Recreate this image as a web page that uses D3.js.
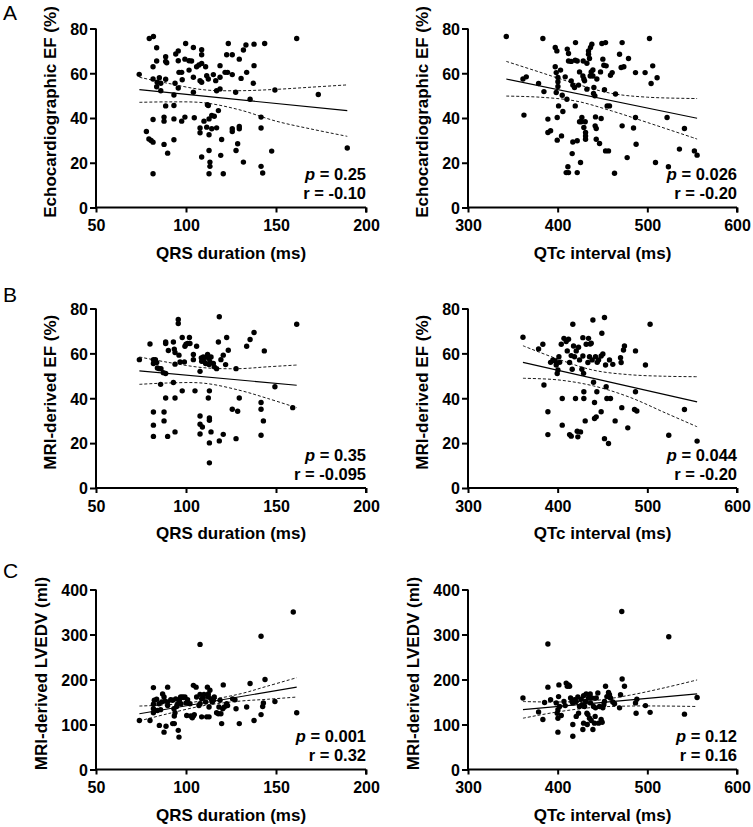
<!DOCTYPE html>
<html>
<head>
<meta charset="utf-8">
<script src="https://cdn.jsdelivr.net/npm/d3@7/dist/d3.min.js"></script>
<style>
  html, body { margin: 0; padding: 0; background: #fff; }
  svg { display: block; }
  text { font-family: "Liberation Sans", Arial, Helvetica, sans-serif; }
</style>
</head>
<body>
<svg id="chart" width="753" height="827"></svg>
<script>
// ---------------- DATA ----------------
const qrsTicks = [50, 100, 150, 200];
const qtcTicks = [300, 400, 500, 600];
const efTicks = [0, 20, 40, 60, 80];
const edvTicks = [0, 100, 200, 300, 400];

const panelLetters = ["A", "B", "C"];
const xTitles = ["QRS duration (ms)", "QTc interval (ms)"];
const yTitles = ["Echocardiographic EF (%)", "MRI-derived EF (%)", "MRI-derived LVEDV (ml)"];
const pValues = ["0.25", "0.026", "0.35", "0.044", "0.001", "0.12"];
const rValues = ["-0.10", "-0.20", "-0.095", "-0.20", "0.32", "0.16"];

// Panel A left: echocardiographic EF vs QRS duration
const echoEfVsQrs = [[74,59.5],[78,34],[79.6,75.5],[81.9,76.4],[79.4,30.6],[80.6,30],[81.7,29.2],[81.7,15.1],[81.7,39.3],[81.7,57.4],[81.7,62.9],[83.7,71.4],[83.7,65.5],[83.7,54],[84,56],[85.2,58],[86,55.5],[86,52.2],[87.8,28.2],[87.8,40.4],[87.8,38.6],[88.7,65.3],[88.7,67.4],[89.3,64.7],[88.7,57.3],[88.7,45.4],[89.8,24.3],[93.3,30.3],[93.3,39.6],[93.3,45.6],[93.3,50.3],[93.9,55.5],[94.3,68.6],[95.7,70],[95.7,65.6],[95.7,53.4],[96.1,60.4],[97.6,60.4],[97.9,57.1],[97.6,38.6],[99.4,40.4],[99.8,73.3],[99.4,66.3],[101.7,65.6],[101.7,61.4],[103.1,65.5],[104.1,71.5],[104.1,58.2],[104.1,51.5],[104.6,40.1],[105.9,62.9],[107.2,63.7],[107.8,35.5],[107.8,33.4],[108.7,70.5],[108.7,68.3],[108.7,56],[108.7,64.4],[108.7,22.6],[107.8,56.7],[110,38.6],[110.9,62.9],[111.5,58.9],[111.5,35.9],[111.9,45.9],[112.4,57.4],[112.8,39.6],[112.4,45.6],[112.8,32.5],[112.8,25.5],[113.3,20.3],[113.3,18.4],[112.8,15.1],[114.3,41.1],[114.3,35.2],[115.2,59.4],[115.7,40.8],[116.5,56.7],[117,35.6],[117,52.2],[118,43.3],[118.9,58.2],[118.9,63.4],[118.9,53],[119.3,23.3],[119.8,30.4],[120.7,15.1],[121.7,60.4],[123.1,60.4],[123.5,73.3],[122.6,68.3],[125.7,68.3],[125.7,59.4],[125.7,35.2],[125.7,34],[127.6,51.5],[127.8,25.5],[128.7,28.5],[129.6,35.2],[129.6,36.2],[129.6,66.3],[130.6,57.7],[131.9,20.3],[131.9,70.4],[133.3,72.6],[133.7,60.4],[135.6,48.4],[137.4,55.5],[137.8,63.4],[137.8,73],[141.7,40.4],[141.7,35.5],[141.7,18.4],[142.6,15.4],[143.7,73.3],[147.6,25.2],[149.4,52.5],[161.5,75.5],[173.5,50.5],[189.6,26.6]];
const echoEfVsQrsFit = [[74.1,52.7],[189.6,43.3]];
const echoEfVsQrsUpper = [[74.1,58.2],[90,55.5],[110,52.6],[130,52.2],[150,52.8],[170,53.8],[189.6,54.8]];
const echoEfVsQrsLower = [[74.1,47],[90,47.2],[110,46.8],[130,43.6],[150,38.6],[170,35],[189.6,31.8]];

// Panel A right: echocardiographic EF vs QTc interval
const echoEfVsQtc = [[342.7,76.4],[361.3,57.4],[365,58.4],[362.4,41.3],[378.7,55.4],[383.5,75.5],[384.7,51.8],[389.1,39.5],[389.1,33.5],[392.1,34.3],[397.3,62.9],[397.3,71.5],[399.1,70],[398.4,60.3],[400.3,58.1],[400.3,56.2],[400.3,54.1],[398.4,51.4],[399.5,40.2],[399.5,30.1],[401,45.4],[403.2,61.4],[404.3,32],[405.8,42.9],[405.1,50.2],[408.4,58.4],[410.3,48.4],[409.5,15.6],[412.1,15.6],[411.4,18.2],[410.7,70.8],[412.1,68.8],[412.1,65.5],[415.1,65.3],[415.1,56.6],[416.9,54.7],[416.2,24.1],[416.9,29.3],[418.8,53.6],[419.6,65.8],[419.6,45.4],[419.9,73.7],[421.8,65.5],[421.8,29.8],[421.8,15.6],[423.3,54.7],[424.4,60.6],[425.5,20.1],[424.4,38.3],[426.3,38.3],[427,40.2],[428.1,58.8],[428.5,65.5],[429.2,35.8],[429.2,57.4],[430,56.6],[430.7,38.3],[431.1,33.5],[431.1,30.5],[431.1,32],[432.6,64.5],[432.6,52.9],[434.4,70],[434.4,68.5],[435.5,66.6],[436.3,58.8],[436.6,71.5],[437.4,60.6],[438.1,73],[439.3,61.5],[439.3,58.8],[440,51],[440.4,53.6],[441.5,49.9],[441.8,36.5],[442.2,40.5],[443,35.3],[443,30.5],[443.7,57.4],[446.7,28.6],[447.8,60.6],[448.5,39.8],[449.3,73.3],[450.4,66.3],[451.5,63.6],[452.2,52.6],[453.4,73.7],[453.4,25.3],[454.1,63.3],[455.2,45.4],[456.7,25.3],[457.8,45.4],[458.9,59.1],[460.8,60.3],[464.5,50.7],[463.4,15.3],[469,68.5],[470.8,62.6],[471.9,73.7],[471.9,36.5],[473.8,62.9],[477.5,22.3],[479,66.6],[484.6,35.5],[486.8,60.3],[486.8,40.2],[487.5,28.3],[497.5,60.3],[502.4,75.5],[504.2,55.4],[506,63.3],[509.1,20.1],[510.9,58],[522,40.2],[523.5,18.2],[535.8,26.1],[541.4,35.3],[552.5,25.3],[555.5,23.4]];
const echoEfVsQtcFit = [[342.7,57.4],[555.5,39.9]];
const echoEfVsQtcUpper = [[342.7,65.3],[380,60.5],[420,55.3],[460,51],[500,49.3],[555.5,48.7]];
const echoEfVsQtcLower = [[342.7,49.8],[380,49.3],[420,47.6],[460,43.2],[500,38],[555.5,30.6]];

// Panel B left: MRI-derived EF vs QRS duration
const mriEfVsQrs = [[74.1,57.2],[80,64.2],[81.9,57.2],[81.9,55.5],[81.9,33.9],[81.9,28],[81.9,23],[83,57.2],[83.7,55.9],[84.1,53.5],[85.2,53.2],[86.1,53.2],[85.9,46.2],[87.4,51.4],[87.8,33.9],[87.8,29.9],[88.7,64.4],[88.7,65.1],[88.7,51],[88.7,40.1],[89.8,23],[90.2,61.3],[93,65.1],[93,47],[93.5,61.9],[93.9,40.1],[93.9,25],[93.9,55.2],[93.9,60.4],[95.7,75.1],[95.7,73.3],[96.1,59.2],[96.7,56.2],[97.9,67.1],[97.9,43.3],[99.1,56.2],[99.4,63.2],[100,64.1],[100.9,64.4],[101.9,67.1],[102.2,64.4],[104.1,57.2],[104.1,59.5],[105,43.3],[105.9,63.2],[107.8,52],[107.8,32.1],[107.8,28.4],[107.8,24.1],[108.5,58],[108.7,56.5],[109.1,27.2],[109.6,58.4],[110,56.5],[110.9,55.5],[111.5,58.4],[112,59.5],[112.4,40.1],[112.8,55],[112.8,57.7],[113,43.3],[113,31.2],[113,30.2],[113,20.1],[113,11.2],[113.3,56.2],[113.9,25],[113.9,58.4],[115.2,55.5],[115.7,54],[117,53.2],[118,65.1],[118.5,76.3],[118.5,21],[119.4,57.2],[120.7,59.2],[120.7,23.9],[122,55],[122.6,67.1],[123.5,61.4],[125.7,35.1],[127.8,53.2],[127.8,22],[128.7,34.2],[129.6,40.1],[133.7,63.2],[135.6,66.2],[137.8,69.3],[141.7,38.1],[141.7,35.1],[141.7,23.5],[143,29.9],[143.5,61.1],[149.4,45.1],[159.3,35.8],[161.5,73]];
const mriEfVsQrsFit = [[74.1,52.2],[161.5,45.8]];
const mriEfVsQrsUpper = [[74.1,58.4],[90,56],[110,53.6],[130,53.2],[145,54],[161.5,54.8]];
const mriEfVsQrsLower = [[74.1,46.2],[90,46.8],[110,46.7],[130,43.5],[145,40],[161.5,35.8]];

// Panel B right: MRI-derived EF vs QTc interval
const mriEfVsQtc = [[361.3,67.2],[378.7,62],[383.5,64.1],[384.7,45.9],[389.1,34],[389.1,23.8],[392.1,56],[394.7,57.1],[397.3,56.6],[398.4,54.8],[399.5,51],[400.3,52.6],[401.4,58.5],[402.2,56],[405.1,39.9],[405.1,28],[404,64.1],[407,66.7],[409.5,65.3],[410.7,61.1],[412.1,66.3],[413.3,55.9],[413.3,23.8],[415.1,59],[415.1,23.1],[416.2,52.9],[416.9,73],[417.7,63.3],[418.8,58.5],[419.9,39.9],[420.7,61.1],[421.8,25.3],[422.5,22.8],[423.3,62.7],[424.4,57.1],[425.5,25],[427,52.9],[428.1,58.8],[428.1,67],[428.9,51.1],[429.2,42.9],[429.2,39.9],[430.7,29.9],[431.8,64.1],[433.7,55.9],[434.4,66.7],[435.5,58.5],[436.3,64.2],[437.4,64.5],[438.5,57.1],[439.3,74.9],[440,47.1],[441.1,38.1],[441.1,31],[442.2,58.5],[443,31.7],[443.7,42.9],[444.1,56],[445.6,57.1],[448.5,34],[448.5,58.8],[449.3,69],[450.4,59.7],[452.2,76],[452.2,22],[453.4,54.8],[454.1,45.1],[454.9,39.9],[456.7,19.8],[457.8,57.1],[458.9,39.9],[461.5,55.1],[464.1,29.9],[470.1,58.1],[470.8,55.9],[471.5,35.8],[473.4,61.5],[474.5,63.3],[478.2,26.8],[485.7,35],[486.8,61.1],[486.8,42.9],[488.3,34.3],[497.9,54.8],[503.1,73],[523.9,23.5],[541.4,35],[555.5,20.9]];
const mriEfVsQtcFit = [[361.3,56],[555.5,38.4]];
const mriEfVsQtcUpper = [[361.3,63.4],[400,57.5],[440,52.5],[480,50.5],[520,49.8],[555.5,49.6]];
const mriEfVsQtcLower = [[361.3,48.9],[400,48.2],[440,45.5],[480,40.5],[520,33.5],[555.5,27.3]];

// Panel C left: MRI-derived LVEDV vs QRS duration
const edvVsQrs = [[74.1,109],[80,109],[81.9,182],[81.9,145],[81.9,126],[81.9,135],[82.4,154],[83.7,156],[84.1,131],[85,146],[85.2,98],[85.9,133],[86.5,150],[87,168],[87.8,83],[87.8,161],[88.3,152],[88.9,96],[89.8,183],[89.8,150],[89.8,142],[91.5,155],[92.6,154],[92.6,102],[93.3,135],[93.5,102],[93.9,126],[93.5,119],[94.3,157],[94.8,140],[95.4,146],[95.7,87],[96.1,72],[96.3,154],[97,161],[97.2,146],[98.1,161],[98.5,160],[99.4,161],[100,148],[100.4,120],[100.9,155],[102.2,146],[102.6,119],[103.5,115],[104.1,119],[104.1,187],[104.6,122],[105.6,183],[105.9,161],[107.2,142],[107.8,146],[107.8,278],[107.8,167],[108.7,157],[108.7,117],[109.6,160],[110,167],[110.9,150],[111.5,117],[111.9,183],[112.4,168],[112.4,161],[112.8,139],[112.8,117],[113.3,176],[113.9,157],[114.6,150],[115.2,154],[115.7,161],[117,126],[118,124],[118.3,139],[118.9,154],[119.4,124],[119.8,102],[120.4,135],[120.7,188],[121.3,139],[122.6,146],[123.1,142],[125.9,157],[127.2,155],[127.8,135],[129.6,102],[133.7,139],[135.6,191],[137.8,109],[141.7,122],[141.7,296],[142.6,140],[143,148],[143.9,200],[149.4,151],[159.6,350],[161.5,126]];
const edvVsQrsFit = [[74.1,124],[161.5,183]];
const edvVsQrsUpper = [[74.1,141],[90,144],[110,153],[130,168],[145,185],[161.5,204]];
const edvVsQrsLower = [[74.1,108],[90,124],[110,142],[130,152],[145,156],[161.5,161]];

// Panel C right: MRI-derived LVEDV vs QTc interval
const edvVsQtc = [[361.3,159],[378.7,128],[383.5,111],[385.4,149],[389.1,279],[389.1,183],[392.1,155],[398.4,148],[399.5,125],[400.3,133],[400.3,114],[401,162],[401.4,188],[400.3,83],[402.2,140],[404,120],[407,151],[408.4,142],[409.5,192],[410.7,185],[412.1,188],[413.3,185],[414.4,159],[416,151],[416.9,100],[416.9,74],[416.9,148],[418.8,155],[420.7,151],[420.7,118],[422.5,161],[423.3,125],[424.4,140],[426.3,156],[427,144],[428.1,89],[428.9,164],[428.9,103],[430,140],[431.1,151],[431.8,168],[432.6,125],[433,100],[433.7,122],[434.4,159],[435.5,114],[436.3,168],[436.6,148],[437.4,109],[438.1,159],[439.3,89],[440,140],[441.1,103],[441.8,118],[442.2,137],[443,159],[444.8,170],[445.6,103],[446.7,140],[448.5,111],[449.6,105],[450.4,137],[451.5,144],[452.2,151],[453.4,185],[454.9,162],[456.7,171],[457.8,166],[458.9,159],[461.5,150],[463.4,146],[469,137],[470.1,166],[471.5,351],[471.9,201],[474.5,185],[486.8,148],[487.5,125],[488.3,156],[497.9,142],[503.1,127],[523.9,295],[541.4,123],[555.5,160]];
const edvVsQtcFit = [[361.3,133],[555.5,168]];
const edvVsQtcUpper = [[361.3,151],[400,150],[440,153],[480,165],[520,182],[555.5,199]];
const edvVsQtcLower = [[361.3,114],[400,128],[440,138],[480,141],[520,141],[555.5,140]];

// ---------------- LAYOUT ----------------
const svg = d3.select("#chart");
const colX = [[96, 366], [468, 737]];
const rowY = [[28.5, 207.5], [308.5, 488], [589.5, 769.5]];
const letterBaselines = [20, 302, 578];
const yTitleOffset = [46, 46, 55];

const panels = [
  { row: 0, col: 0, pts: echoEfVsQrs, fit: echoEfVsQrsFit, up: echoEfVsQrsUpper, lo: echoEfVsQrsLower, xt: qrsTicks, yt: efTicks },
  { row: 0, col: 1, pts: echoEfVsQtc, fit: echoEfVsQtcFit, up: echoEfVsQtcUpper, lo: echoEfVsQtcLower, xt: qtcTicks, yt: efTicks },
  { row: 1, col: 0, pts: mriEfVsQrs, fit: mriEfVsQrsFit, up: mriEfVsQrsUpper, lo: mriEfVsQrsLower, xt: qrsTicks, yt: efTicks },
  { row: 1, col: 1, pts: mriEfVsQtc, fit: mriEfVsQtcFit, up: mriEfVsQtcUpper, lo: mriEfVsQtcLower, xt: qtcTicks, yt: efTicks },
  { row: 2, col: 0, pts: edvVsQrs, fit: edvVsQrsFit, up: edvVsQrsUpper, lo: edvVsQrsLower, xt: qrsTicks, yt: edvTicks },
  { row: 2, col: 1, pts: edvVsQtc, fit: edvVsQtcFit, up: edvVsQtcUpper, lo: edvVsQtcLower, xt: qtcTicks, yt: edvTicks }
];

// panel letters
panelLetters.forEach((L, i) => {
  svg.append("text").attr("x", 3).attr("y", letterBaselines[i])
    .attr("font-size", 21).attr("font-weight", "normal").attr("fill", "#000").text(L);
});

panels.forEach((p, i) => {
  const [x0, x1] = colX[p.col];
  const [yTop, yBot] = rowY[p.row];
  const x = d3.scaleLinear().domain(d3.extent(p.xt)).range([x0, x1]);
  const y = d3.scaleLinear().domain(d3.extent(p.yt)).range([yBot, yTop]);
  const g = svg.append("g");

  // axes
  const xAxis = d3.axisBottom(x).tickValues(p.xt).tickSize(5).tickPadding(4).tickFormat(d3.format("d"));
  const yAxis = d3.axisLeft(y).tickValues(p.yt).tickSize(6).tickPadding(2).tickFormat(d3.format("d"));
  const gx = g.append("g").attr("transform", `translate(0,${yBot})`).call(xAxis);
  const gy = g.append("g").attr("transform", `translate(${x0},0)`).call(yAxis);
  [gx, gy].forEach(a => {
    a.select(".domain").attr("stroke", "#000").attr("stroke-width", 2);
    a.selectAll(".tick line").attr("stroke", "#000").attr("stroke-width", 2);
    a.selectAll(".tick text").attr("fill", "#000")
      .attr("font-family", '"Liberation Sans", Arial, sans-serif')
      .attr("font-size", 16).attr("font-weight", "bold");
  });
  gx.select(".domain").attr("d", `M${x0},0H${x1}M${x1},0V5`);
  gy.select(".domain").attr("d", `M0,${yTop}V${yBot}`);
  gx.selectAll(".tick text").attr("dy", "0.71em").attr("y", 12.5);
  gy.selectAll(".tick text").attr("x", -8).attr("dy", "0.36em");

  // axis titles
  g.append("text")
    .attr("x", (x0 + x1) / 2).attr("y", yBot + 51)
    .attr("text-anchor", "middle").attr("font-size", 17).attr("font-weight", "bold")
    .attr("fill", "#000").text(xTitles[p.col]);
  const ty = (yTop + yBot) / 2 - 6;
  const tx = x0 - yTitleOffset[p.row];
  g.append("text")
    .attr("transform", `translate(${tx},${ty}) rotate(-90)`)
    .attr("text-anchor", "middle").attr("dominant-baseline", "central")
    .attr("font-size", 17).attr("font-weight", "bold")
    .attr("fill", "#000").text(yTitles[p.row]);

  // confidence band curves
  const line = d3.line().x(d => x(d[0])).y(d => y(d[1])).curve(d3.curveCatmullRom);
  [p.up, p.lo].forEach(band => {
    g.append("path").datum(band).attr("d", line)
      .attr("fill", "none").attr("stroke", "#000").attr("stroke-width", 0.9)
      .attr("stroke-dasharray", "3,2");
  });
  g.append("path").datum(p.fit).attr("d", d3.line().x(d => x(d[0])).y(d => y(d[1])))
    .attr("fill", "none").attr("stroke", "#000").attr("stroke-width", 1.1);

  // points
  g.append("g").selectAll("circle").data(p.pts).join("circle")
    .attr("cx", d => x(d[0])).attr("cy", d => y(d[1])).attr("r", 2.7).attr("fill", "#000");

  // stats
  const tp = g.append("text").attr("x", x1).attr("y", yBot - 27.5)
    .attr("text-anchor", "end").attr("font-size", 16.5).attr("font-weight", "bold").attr("fill", "#000");
  tp.append("tspan").attr("font-style", "italic").text("p");
  tp.append("tspan").text(" = " + pValues[i]);
  g.append("text").attr("x", x1).attr("y", yBot - 8.5)
    .attr("text-anchor", "end").attr("font-size", 16.5).attr("font-weight", "bold").attr("fill", "#000")
    .text("r = " + rValues[i]);
});
</script>
</body>
</html>
